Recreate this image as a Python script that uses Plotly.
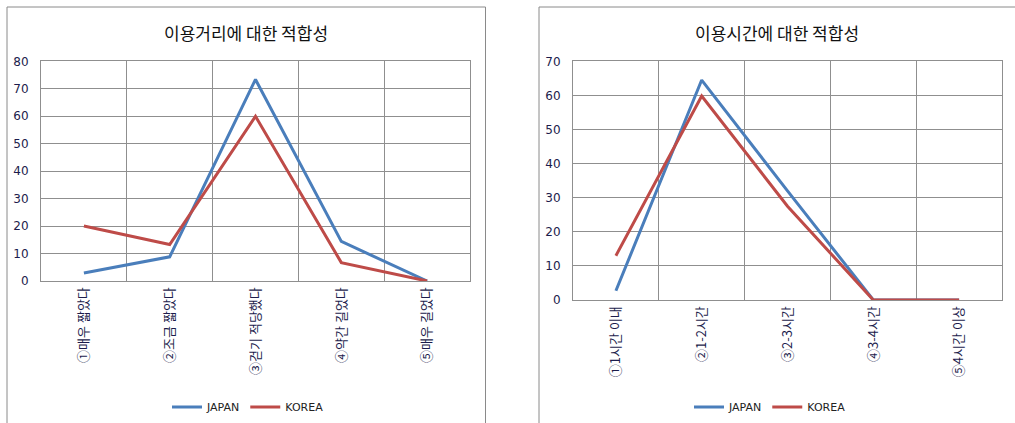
import plotly.graph_objects as go

# Survey results: suitability of walking distance and of usage time
dist_labels = ["①매우 짧았다", "②조금 짧았다", "③걷기 적당했다", "④약간 길었다", "⑤매우 길었다"]
dist_japan = [2.9, 8.8, 73.4, 14.4, 0]
dist_korea = [20.0, 13.3, 60.0, 6.7, 0]

time_labels = ["①1시간 이내", "②1-2시간", "③2-3시간", "④3-4시간", "⑤4시간 이상"]
time_japan = [2.7, 64.5, 32.0, 0, 0]
time_korea = [13.0, 59.8, 27.5, 0, 0]

W, H = 1015, 423
BLUE = "#4a7ebb"
RED = "#be4b48"
GRID = "#8f8f8f"
FONT = "DejaVu Sans, Noto Sans CJK KR, sans-serif"
KFONT = "Noto Sans CJK KR, DejaVu Sans, sans-serif"
TICK_COLOR = "#1c1c4c"


def px_x(v):
    return v / W


def px_y(v):
    return 1 - v / H


fig = go.Figure()

fig.add_trace(go.Scatter(x=dist_labels, y=dist_japan, name="JAPAN", mode="lines",
                         line=dict(color=BLUE, width=3), xaxis="x", yaxis="y", legend="legend"))
fig.add_trace(go.Scatter(x=dist_labels, y=dist_korea, name="KOREA", mode="lines",
                         line=dict(color=RED, width=3), xaxis="x", yaxis="y", legend="legend"))
fig.add_trace(go.Scatter(x=time_labels, y=time_japan, name="JAPAN", mode="lines",
                         line=dict(color=BLUE, width=3), xaxis="x2", yaxis="y2", legend="legend2"))
fig.add_trace(go.Scatter(x=time_labels, y=time_korea, name="KOREA", mode="lines",
                         line=dict(color=RED, width=3), xaxis="x2", yaxis="y2", legend="legend2"))

xcommon = dict(type="category", range=[-0.5, 4.5], tickson="boundaries", showgrid=True,
               gridcolor=GRID, gridwidth=1, showline=True, linecolor=GRID, linewidth=1,
               mirror=True, tickangle=-90, ticks="outside", ticklen=10, tickcolor="rgba(0,0,0,0)",
               automargin=False,
               tickfont=dict(family=KFONT, size=13, color=TICK_COLOR), fixedrange=True)
ycommon = dict(dtick=10, showgrid=True, gridcolor=GRID, gridwidth=1, showline=True,
               linecolor=GRID, linewidth=1, mirror=True, ticks="outside", ticklen=9,
               tickcolor="rgba(0,0,0,0)", zeroline=False, automargin=False,
               tickfont=dict(family=FONT, size=12, color=TICK_COLOR), fixedrange=True)

fig.update_layout(
    width=W, height=H,
    margin=dict(l=0, r=0, t=0, b=0, autoexpand=False),
    paper_bgcolor="white", plot_bgcolor="white",
    font=dict(family=FONT, color="#222222"),
    xaxis=dict(domain=[px_x(41), px_x(470)], anchor="y", categoryorder="array",
               categoryarray=dist_labels, **xcommon),
    yaxis=dict(domain=[px_y(281), px_y(61.3)], anchor="x", range=[0, 80], **ycommon),
    xaxis2=dict(domain=[px_x(573), px_x(1002)], anchor="y2", categoryorder="array",
                categoryarray=time_labels, **xcommon),
    yaxis2=dict(domain=[px_y(300), px_y(61.3)], anchor="x2", range=[0, 70], **ycommon),
    legend=dict(orientation="h", x=px_x(248), y=px_y(407), xanchor="center", yanchor="middle",
                font=dict(family=FONT, size=11, color="#222222"), itemwidth=30,
                bgcolor="rgba(0,0,0,0)", tracegroupgap=0),
    legend2=dict(orientation="h", x=px_x(770), y=px_y(407), xanchor="center", yanchor="middle",
                 font=dict(family=FONT, size=11, color="#222222"), itemwidth=30,
                 bgcolor="rgba(0,0,0,0)", tracegroupgap=0),
    annotations=[
        dict(text="이용거리에 대한 적합성", x=px_x(246), y=px_y(32), xref="paper", yref="paper",
             showarrow=False, xanchor="center", yanchor="middle",
             font=dict(family=KFONT, size=17, color="#111111")),
        dict(text="이용시간에 대한 적합성", x=px_x(777), y=px_y(32), xref="paper", yref="paper",
             showarrow=False, xanchor="center", yanchor="middle",
             font=dict(family=KFONT, size=17, color="#111111")),
    ],
    shapes=[
        dict(type="rect", xref="paper", yref="paper", x0=px_x(7), x1=px_x(485.5),
             y0=px_y(430), y1=px_y(7), line=dict(color="#8a8a8a", width=1)),
        dict(type="rect", xref="paper", yref="paper", x0=px_x(539), x1=px_x(1030),
             y0=px_y(430), y1=px_y(7), line=dict(color="#8a8a8a", width=1)),
    ],
)

fig.write_html("out.html")
